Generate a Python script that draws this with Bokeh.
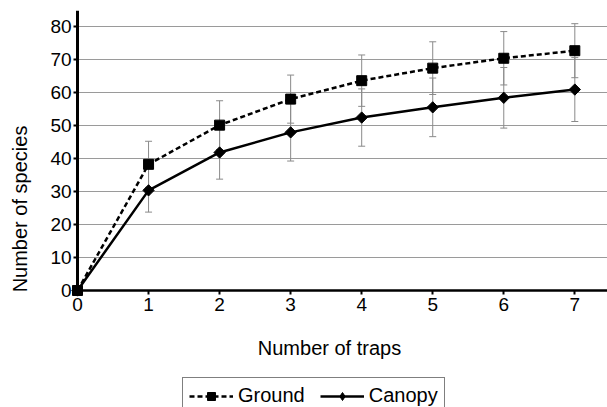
from bokeh.plotting import figure
from bokeh.models import (ColumnDataSource, Range1d, FixedTicker, Whisker, TeeHead,
                          Legend, LegendItem, LinearAxis, Grid)
from bokeh.embed import file_html
from bokeh.resources import INLINE
import math

traps = [0, 1, 2, 3, 4, 5, 6, 7]
ground = [0, 38.3, 50.2, 58.1, 63.7, 67.5, 70.5, 72.8]
ground_err = [0, 7.0, 7.4, 7.3, 7.8, 8.0, 8.1, 8.2]
canopy = [0, 30.4, 41.9, 48.0, 52.5, 55.6, 58.5, 61.0]
canopy_err = [0, 6.6, 8.1, 8.7, 8.7, 8.9, 9.2, 9.7]
x_ticks = [0, 1, 2, 3, 4, 5, 6, 7]
y_ticks = [0, 10, 20, 30, 40, 50, 60, 70, 80]

FONT = "Liberation Sans"
X_END = 7.46
Y_END = 85

p = figure(width=607, height=407, output_backend="svg", toolbar_location=None,
           x_range=Range1d(-0.521, X_END), y_range=Range1d(-35.52, Y_END),
           min_border_left=40, min_border_right=0, min_border_top=10,
           min_border_bottom=0, x_axis_location=None, y_axis_location=None)
p.outline_line_color = None
p.xgrid.grid_line_color = None
p.ygrid.grid_line_color = None

grid_main = Grid(dimension=1, ticker=FixedTicker(ticks=y_ticks), cross_bounds=(0, X_END),
                 grid_line_color="#9a9a9a", grid_line_width=1)
grid_top = Grid(dimension=1, ticker=FixedTicker(ticks=[Y_END]), cross_bounds=(0, X_END),
                grid_line_color="#d6d6d6", grid_line_width=1)
p.add_layout(grid_main)
p.add_layout(grid_top)


def style(ax):
    ax.axis_line_color = "black"
    ax.major_tick_line_color = "black"
    ax.major_tick_line_width = 2
    ax.minor_tick_line_color = None
    ax.major_tick_in = 0
    ax.major_tick_out = 4
    ax.major_label_text_font = FONT
    ax.major_label_text_font_size = "19px"
    ax.major_label_text_color = "black"
    ax.axis_label_text_font = FONT
    ax.axis_label_text_font_size = "20px"
    ax.axis_label_text_font_style = "normal"
    ax.axis_label_text_color = "black"


# y axis drawn at x = 0
yax = LinearAxis(ticker=FixedTicker(ticks=y_ticks), bounds=(0, Y_END), fixed_location=0)
style(yax)
yax.axis_line_width = 3
yax.major_label_standoff = 2
p.add_layout(yax, "left")

# y axis title
ytitle = LinearAxis(ticker=FixedTicker(ticks=[]), bounds=(-11.6, Y_END),
                    axis_label="Number of species")
style(ytitle)
ytitle.axis_line_color = None
ytitle.axis_label_standoff = 10
p.add_layout(ytitle, "left")

# x axis drawn at y = 0
xax = LinearAxis(ticker=FixedTicker(ticks=x_ticks), bounds=(0, X_END), fixed_location=0)
style(xax)
xax.axis_line_width = 2.5
xax.major_label_standoff = 4
p.add_layout(xax, "below")

xtitle = LinearAxis(ticker=FixedTicker(ticks=[]), fixed_location=0, bounds=(0, 7.1),
                    axis_label="Number of traps")
style(xtitle)
xtitle.axis_line_color = None
xtitle.axis_label_standoff = 46
p.add_layout(xtitle, "below")

eb_g = ColumnDataSource(dict(x=traps[1:],
                             lo=[v - e for v, e in zip(ground[1:], ground_err[1:])],
                             hi=[v + e for v, e in zip(ground[1:], ground_err[1:])]))
eb_c = ColumnDataSource(dict(x=traps[1:],
                             lo=[v - e for v, e in zip(canopy[1:], canopy_err[1:])],
                             hi=[v + e for v, e in zip(canopy[1:], canopy_err[1:])]))

for src in (eb_g, eb_c):
    w = Whisker(source=src, base="x", lower="lo", upper="hi",
                line_color="#8a8a8a", line_width=1,
                upper_head=TeeHead(size=7, line_color="#8a8a8a", line_width=1),
                lower_head=TeeHead(size=7, line_color="#8a8a8a", line_width=1),
                level="underlay")
    p.add_layout(w)

src_g = ColumnDataSource(dict(x=traps, y=ground))
src_c = ColumnDataSource(dict(x=traps, y=canopy))
lg = p.line("x", "y", source=src_g, line_color="black", line_width=2.5, line_dash="5 3")
mg = p.scatter("x", "y", source=src_g, marker="square", size=10, color="black")
lc = p.line("x", "y", source=src_c, line_color="black", line_width=2.5)
mc = p.scatter("x", "y", source=src_c, marker="square", size=8, angle=math.pi / 4,
               color="black")
# diamond used only for the legend key
mc_key = p.scatter("x", "y", source=src_c, marker="diamond", size=13, color="black",
                   visible=False)

legend = Legend(items=[LegendItem(label="Ground", renderers=[lg, mg]),
                       LegendItem(label="Canopy", renderers=[lc, mc_key])],
                orientation="horizontal", location=(142, -7),
                border_line_color="black", border_line_width=1,
                background_fill_color="white", background_fill_alpha=1,
                label_text_font=FONT, label_text_font_size="20px",
                label_text_color="black", glyph_width=44, glyph_height=20,
                label_standoff=5, spacing=15, padding=6, margin=0)
p.add_layout(legend)

open("out.html", "w").write(file_html(p, INLINE))
